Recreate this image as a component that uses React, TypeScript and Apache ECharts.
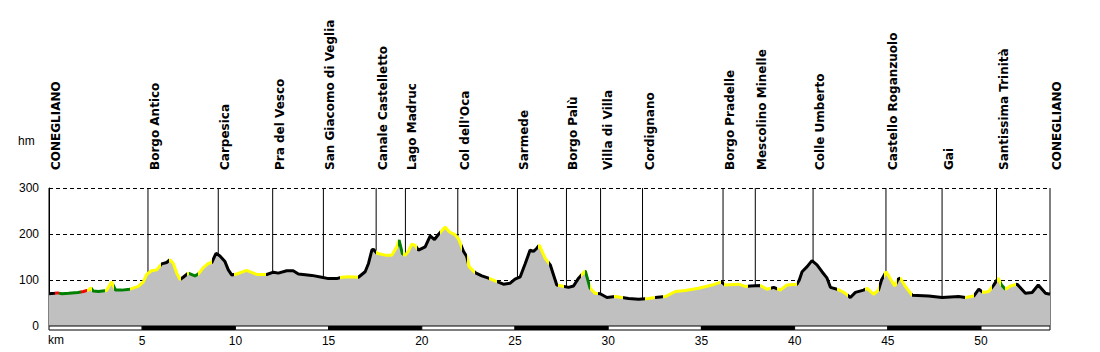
import React, { useEffect, useRef } from "react";
import * as echarts from "echarts";

const totalKm = 53.7;

const kmPts = [
  0.0, 0.3, 0.45, 0.7, 1.05, 1.55, 1.85, 2.1, 2.25, 2.37, 2.65, 3.09, 3.36, 3.57, 3.9, 4.34, 4.79, 5.06, 5.24, 5.5,
  5.78, 6.04, 6.31, 6.49, 6.67, 6.85, 7.03, 7.2, 7.47, 7.83, 8.01, 8.28, 8.55, 8.73, 8.96, 9.17, 9.44, 9.62, 9.8, 10.07,
  10.6, 11.14, 11.68, 12.04, 12.3, 12.75, 13.1, 13.38, 14.1, 14.63, 14.99, 15.43, 15.71, 16.06, 16.6, 16.96, 17.14, 17.32, 17.4, 17.59,
  18.03, 18.39, 18.66, 18.78, 18.96, 19.1, 19.28, 19.46, 19.64, 19.82, 20.18, 20.45, 20.68, 20.89, 21.07, 21.25, 21.47, 21.79, 21.97, 22.24,
  22.41, 22.54, 22.86, 23.22, 23.58, 23.93, 24.38, 24.74, 25.0, 25.28, 25.55, 25.81, 25.99, 26.17, 26.3, 26.62, 26.89, 27.24, 27.51, 27.87,
  28.14, 28.41, 28.77, 29.03, 29.3, 29.57, 29.93, 30.38, 31.09, 31.63, 32.16, 32.52, 33.06, 33.6, 34.13, 34.85, 35.57, 36.01, 36.14, 36.28,
  37.0, 37.35, 37.62, 38.16, 38.52, 38.88, 39.23, 39.59, 40.13, 40.25, 40.4, 40.67, 40.93, 41.2, 41.47, 41.74, 41.92, 42.28, 42.55, 42.72,
  42.99, 43.26, 43.7, 43.89, 44.24, 44.5, 44.66, 44.91, 45.23, 45.37, 45.55, 45.67, 45.94, 46.3, 47.19, 47.91, 48.8, 49.16, 49.61, 49.88,
  50.11, 50.41, 50.68, 50.92, 51.1, 51.31, 51.58, 51.94, 52.38, 52.74, 53.07, 53.46, 53.7,
];

const elevPts = [
  70, 71, 72, 70, 71, 73, 75, 78, 83, 76, 75, 77, 96, 78, 78, 80, 86, 96, 112, 120,
  122, 135, 138, 144, 136, 115, 101, 106, 115, 109, 113, 127, 136, 138, 158, 152, 140, 122, 111, 113,
  121, 112, 112, 117, 115, 120, 120, 113, 110, 106, 103, 103, 106, 107, 106, 118, 136, 165, 167, 158,
  154, 154, 172, 187, 157, 154, 162, 178, 175, 165, 172, 196, 188, 199, 207, 215, 205, 198, 189, 162,
  151, 129, 116, 109, 104, 98, 91, 93, 102, 107, 136, 165, 162, 169, 176, 147, 133, 89, 87, 84,
  87, 104, 120, 82, 71, 70, 62, 64, 60, 58, 60, 62, 64, 75, 77, 82, 89, 95, 94, 89,
  91, 86, 87, 88, 80, 84, 78, 89, 91, 100, 118, 129, 142, 133, 118, 104, 84, 80, 75, 71,
  62, 73, 78, 82, 69, 78, 100, 118, 96, 87, 102, 104, 86, 67, 65, 62, 64, 62, 65, 80,
  73, 75, 89, 104, 89, 80, 87, 91, 71, 73, 89, 71, 69,
];

// surface / gradient class per stretch of the route (start km, class)
const segStarts = [
  0, 0.3, 0.55, 1.7, 2.05, 2.3, 3.0, 3.5, 4.35, 6.0, 6.45, 7.1, 7.38, 7.5, 7.98, 8.75, 9.9, 11.65, 15.6, 16.6,
  17.55, 18.7, 18.97, 19.75, 21.0, 22.15, 22.45, 22.85, 23.6, 24.05, 26.25, 26.8, 27.3, 27.65, 28.55, 28.75, 29.05, 29.45, 30.3, 30.8,
  31.95, 32.5, 32.95, 36.05, 36.2, 37.5, 38.15, 38.75, 39.05, 40.15, 42.3, 42.85, 43.75, 44.5, 44.8, 45.5, 45.65, 46.3, 49.15, 49.6,
  50.05, 50.6, 50.85, 51.05, 51.3, 51.85,
];
const segKinds = [
  "B", "R", "G", "R", "Y", "G", "Y", "G", "Y", "B", "Y", "B", "Y", "G", "Y", "B", "Y", "B", "Y", "B",
  "Y", "G", "Y", "B", "Y", "B", "Y", "B", "Y", "B", "Y", "B", "Y", "B", "Y", "G", "Y", "B", "Y", "B",
  "Y", "B", "Y", "B", "Y", "B", "Y", "B", "Y", "B", "Y", "B", "Y", "B", "Y", "B", "Y", "B", "Y", "B",
  "Y", "B", "Y", "G", "Y", "B",
];

const placeNames = [
  "CONEGLIANO", "Borgo Antico", "Carpesica", "Pra del Vesco", "San Giacomo di Veglia", "Canale Castelletto",
  "Lago Madruc", "Col dell'Oca", "Sarmede", "Borgo Palù", "Villa di Villa", "Cordignano", "Borgo Pradelle",
  "Mescolino Minelle", "Colle Umberto", "Castello Roganzuolo", "Gai", "Santissima Trinità", "CONEGLIANO",
];
const placeKm = [
  0, 5.31, 9.08, 12.0, 14.72, 17.55, 19.12, 21.93, 25.13, 27.76, 29.59, 31.84, 36.16, 37.89, 40.99, 44.9, 47.91, 50.83, 53.7,
];

const yTicks = [0, 100, 200, 300];
const kmStep = 5;

const palette: Record<string, string> = { B: "#000000", R: "#ff0000", G: "#008000", Y: "#ffff00" };

export default function App() {
  const ref = useRef<HTMLDivElement>(null);
  useEffect(() => {
    if (!ref.current) return;
    const chart = echarts.init(ref.current, null, { renderer: "svg" });
    const profile = kmPts.map((k, i) => [k, elevPts[i]]);
    const pieces = segStarts.map((s, i) => {
      const p: any = { gte: s, color: palette[segKinds[i]] };
      if (i < segStarts.length - 1) p.lt = segStarts[i + 1];
      return p;
    });
    const bands: number[][] = [];
    for (let s = 0; s < totalKm; s += kmStep) bands.push([s, Math.min(s + kmStep, totalKm)]);
    const yMax = yTicks[yTicks.length - 1];

    chart.setOption({
      animation: false,
      grid: { left: 49, right: 50, top: 188, bottom: 26 },
      xAxis: {
        type: "value",
        min: 0,
        max: totalKm,
        interval: kmStep,
        axisLine: { show: false },
        axisTick: { show: false },
        splitLine: { show: false },
        axisLabel: {
          margin: 9,
          color: "#000",
          fontFamily: "Liberation Sans",
          fontSize: 12,
          showMaxLabel: false,
          formatter: (v: number) => (v === 0 ? "" : String(v)),
        },
      },
      yAxis: {
        type: "value",
        min: 0,
        max: yMax,
        interval: 100,
        axisLine: { show: true, lineStyle: { color: "#000", width: 1 } },
        axisTick: { show: false },
        splitLine: { show: true, lineStyle: { color: "#000", type: [4, 3], width: 1 } },
        axisLabel: { margin: 10, color: "#000", fontFamily: "Liberation Sans", fontSize: 12 },
      },
      visualMap: {
        type: "piecewise",
        show: false,
        dimension: 0,
        seriesIndex: 2,
        pieces,
      },
      graphic: [
        { type: "text", left: 18, top: 135, style: { text: "hm", fill: "#000", font: '12px "Liberation Sans"' } },
        { type: "text", left: 48, top: 334, style: { text: "km", fill: "#000", font: '12px "Liberation Sans"' } },
      ],
      series: [
        {
          type: "custom",
          z: 1,
          clip: false,
          data: placeKm.map((k, i) => [k, i]),
          renderItem: (params: any, api: any) => {
            const k = api.value(0);
            const top = api.coord([k, yMax]);
            const bot = api.coord([k, 0]);
            return {
              type: "group",
              children: [
                {
                  type: "line",
                  shape: { x1: top[0], y1: top[1], x2: bot[0], y2: bot[1] },
                  style: { stroke: "#000", lineWidth: 1 },
                },
                {
                  type: "text",
                  x: top[0] + 7,
                  y: top[1] - 18,
                  rotation: Math.PI / 2,
                  style: {
                    text: placeNames[params.dataIndex],
                    fill: "#000",
                    fontFamily: "DejaVu Sans",
                    fontWeight: "bold",
                    fontSize: 12,
                    align: "left",
                    verticalAlign: "middle",
                  },
                },
              ],
            };
          },
        },
        {
          type: "line",
          z: 2,
          data: profile,
          symbol: "none",
          lineStyle: { width: 0 },
          areaStyle: { color: "#c0c0c0", opacity: 1 },
          silent: true,
        },
        {
          type: "line",
          z: 3,
          data: profile,
          symbol: "none",
          lineStyle: { width: 3 },
          silent: true,
        },
        {
          type: "custom",
          z: 4,
          clip: false,
          data: bands,
          renderItem: (params: any, api: any) => {
            const a = api.coord([api.value(0), 0]);
            const b = api.coord([api.value(1), 0]);
            return {
              type: "rect",
              shape: { x: a[0], y: a[1], width: b[0] - a[0], height: 4 },
              style: { fill: params.dataIndex % 2 === 1 ? "#000" : "#fff", stroke: "#000", lineWidth: 1 },
            };
          },
        },
      ],
    });
    return () => chart.dispose();
  }, []);
  return (
    <div
      ref={ref}
      style={{ position: "fixed", left: 0, top: 0, width: 1100, height: 352, background: "#fff" }}
    />
  );
}
